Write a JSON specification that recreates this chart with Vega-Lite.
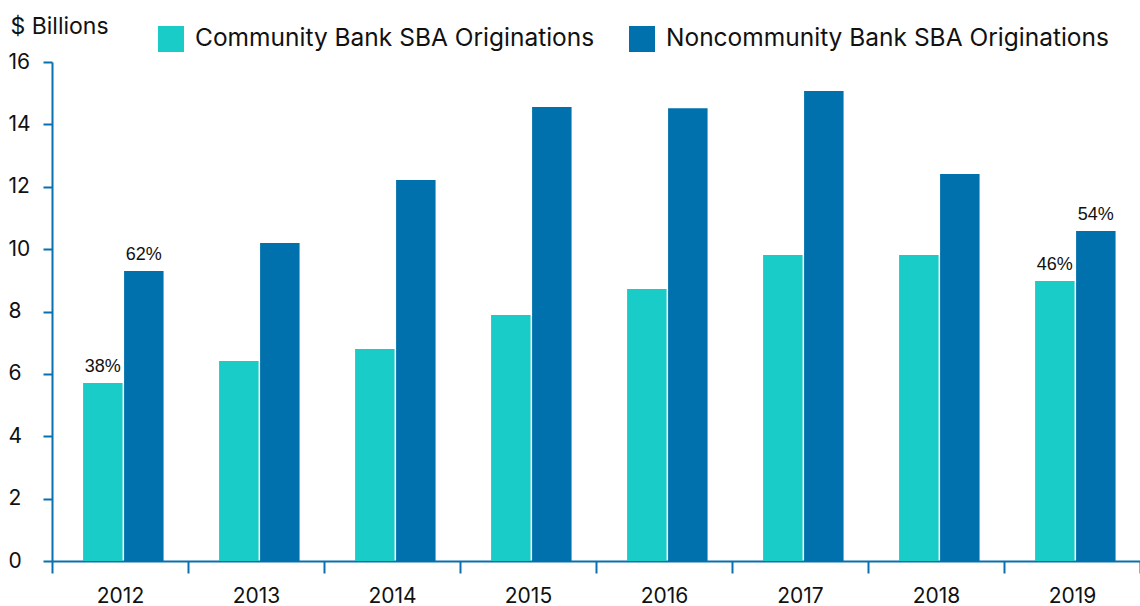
{
  "$schema": "https://vega.github.io/schema/vega-lite/v6.json",
  "width": 1088,
  "height": 499,
  "autosize": {"type": "none"},
  "padding": {"left": 52, "top": 62, "right": 0, "bottom": 45},
  "background": "white",
  "config": {
    "view": {"stroke": null},
    "font": "Inter",
    "axis": {"domainColor": "#0a6fae", "tickColor": "#0a6fae", "domainWidth": 2, "tickWidth": 2, "labelColor": "#111", "grid": false, "labelFont": "Inter", "labelFontSize": 21, "labelFontWeight": "normal"}
  },
  "data": {
    "values": [
      {"year": "2012", "bank": "Community Bank SBA Originations", "value": 5.71, "pct": "38%"},
      {"year": "2012", "bank": "Noncommunity Bank SBA Originations", "value": 9.30, "pct": "62%"},
      {"year": "2013", "bank": "Community Bank SBA Originations", "value": 6.41, "pct": ""},
      {"year": "2013", "bank": "Noncommunity Bank SBA Originations", "value": 10.2, "pct": ""},
      {"year": "2014", "bank": "Community Bank SBA Originations", "value": 6.80, "pct": ""},
      {"year": "2014", "bank": "Noncommunity Bank SBA Originations", "value": 12.22, "pct": ""},
      {"year": "2015", "bank": "Community Bank SBA Originations", "value": 7.89, "pct": ""},
      {"year": "2015", "bank": "Noncommunity Bank SBA Originations", "value": 14.56, "pct": ""},
      {"year": "2016", "bank": "Community Bank SBA Originations", "value": 8.72, "pct": ""},
      {"year": "2016", "bank": "Noncommunity Bank SBA Originations", "value": 14.52, "pct": ""},
      {"year": "2017", "bank": "Community Bank SBA Originations", "value": 9.81, "pct": ""},
      {"year": "2017", "bank": "Noncommunity Bank SBA Originations", "value": 15.07, "pct": ""},
      {"year": "2018", "bank": "Community Bank SBA Originations", "value": 9.81, "pct": ""},
      {"year": "2018", "bank": "Noncommunity Bank SBA Originations", "value": 12.41, "pct": ""},
      {"year": "2019", "bank": "Community Bank SBA Originations", "value": 8.98, "pct": "46%"},
      {"year": "2019", "bank": "Noncommunity Bank SBA Originations", "value": 10.58, "pct": "54%"}
    ]
  },
  "encoding": {
    "x": {
      "field": "year", "type": "nominal",
      "scale": {"paddingInner": 0, "paddingOuter": 0},
      "axis": {"title": null, "labelAngle": 0, "tickBand": "extent", "tickSize": 12, "labelPadding": 12, "labelBaseline": "top"}
    },
    "xOffset": {
      "field": "bank", "type": "nominal",
      "scale": {"paddingInner": 0.037, "paddingOuter": 0.677, "align": 0.56, "domain": ["Community Bank SBA Originations", "Noncommunity Bank SBA Originations"]}
    },
    "y": {
      "field": "value", "type": "quantitative",
      "scale": {"domain": [0, 16], "nice": false},
      "axis": {"values": [0, 2, 4, 6, 8, 10, 12, 14, 16], "tickSize": 9, "labelAlign": "left", "labelPadding": 35, "title": "$ Billions", "titleAngle": 0, "titleX": -42, "titleY": -36, "titleAlign": "left", "titleBaseline": "middle", "titleFont": "Inter", "titleFontSize": 23, "titleFontWeight": "normal", "titleColor": "#111"}
    }
  },
  "layer": [
    {
      "mark": {"type": "bar"},
      "encoding": {
        "color": {
          "field": "bank", "type": "nominal",
          "scale": {"domain": ["Community Bank SBA Originations", "Noncommunity Bank SBA Originations"], "range": ["#19ccc8", "#0071ac"]},
          "legend": {"title": null, "orient": "none", "direction": "horizontal", "legendX": 106, "legendY": -36, "symbolType": "square", "symbolSize": 676, "symbolStrokeWidth": 0, "symbolOpacity": 1, "labelFont": "Inter", "labelFontSize": 24.5, "labelFontWeight": "normal", "labelColor": "#111", "labelLimit": 600, "columnPadding": 34, "labelOffset": 11}
        }
      }
    },
    {
      "mark": {"type": "text", "baseline": "bottom", "dy": -7, "font": "Liberation Sans", "fontSize": 18, "color": "#111"},
      "encoding": {"text": {"field": "pct"}}
    }
  ]
}
